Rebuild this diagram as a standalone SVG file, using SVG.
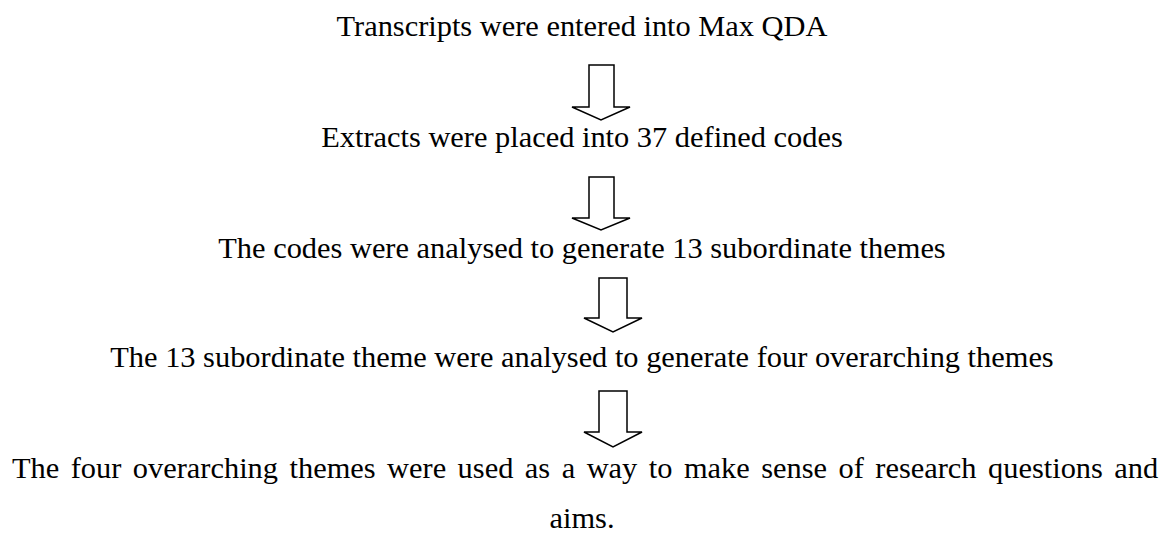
<svg xmlns="http://www.w3.org/2000/svg" width="1165" height="535" viewBox="0 0 1165 535">
  <style>
    .t { font-family: "Liberation Serif", "Times New Roman", serif; font-size: 30.4px; fill: #000; text-anchor: middle; }
    .j { text-anchor: start; word-spacing: 3.9px; }
    .arrow { fill: #fff; stroke: #000; stroke-width: 1.5; stroke-linejoin: miter; }
  </style>
  <rect width="1165" height="535" fill="#fff"/>
  <g id="connectors">
    <polygon class="arrow" points="589,65 614,65 614,107 630,107 601,120 572,107 589,107"/>
    <polygon class="arrow" points="589,177 614,177 614,218 630,218 601,230 572,218 589,218"/>
    <polygon class="arrow" points="599,278 627,278 627,318 642,318 613,332 584,318 599,318"/>
    <polygon class="arrow" points="599,391 627,391 627,432 642,432 613,447 584,432 599,432"/>
  </g>
  <g id="step1"><text class="t" x="582" y="36">Transcripts were entered into Max QDA</text></g>
  <g id="step2"><text class="t" x="582" y="147">Extracts were placed into 37 defined codes</text></g>
  <g id="step3"><text class="t" x="582" y="258">The codes were analysed to generate 13 subordinate themes</text></g>
  <g id="step4"><text class="t" x="582" y="367">The 13 subordinate theme were analysed to generate four overarching themes</text></g>
  <g id="step5">
    <text class="t j" x="12" y="478">The four overarching themes were used as a way to make sense of research questions and</text>
    <text class="t" x="582" y="528">aims.</text>
  </g>
</svg>
